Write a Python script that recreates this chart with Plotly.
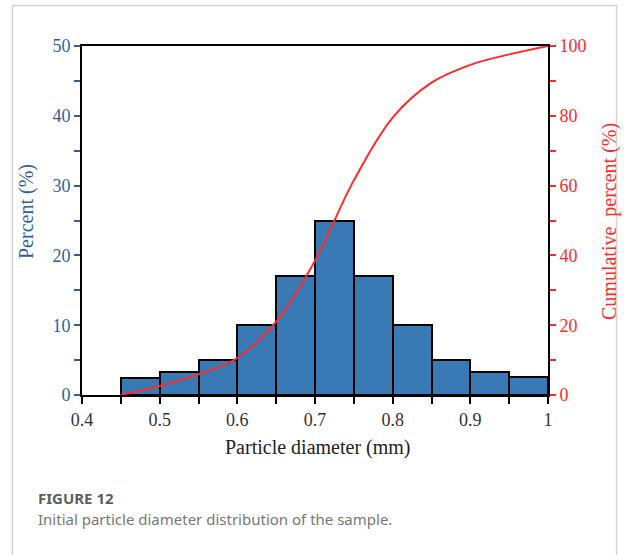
import plotly.graph_objects as go

# Particle size bins (mm) and their percentages
bin_left = [0.45, 0.50, 0.55, 0.60, 0.65, 0.70, 0.75, 0.80, 0.85, 0.90, 0.95]
bin_width = 0.05
percent = [2.5, 3.3, 5.0, 10.0, 17.0, 25.0, 17.0, 10.0, 5.0, 3.3, 2.6]

# Cumulative distribution at the bin edges
cum_x = [0.45, 0.50, 0.55, 0.60, 0.65, 0.70, 0.75, 0.80, 0.85, 0.90, 0.95, 1.00]
cum_percent = [0.0, 2.6, 5.9, 10.6, 21.0, 38.5, 61.5, 79.5, 89.5, 94.6, 97.6, 100.0]

x_tickvals = [0.4, 0.5, 0.6, 0.7, 0.8, 0.9, 1.0]
x_ticktext = ["0.4", "0.5", "0.6", "0.7", "0.8", "0.9", "1"]

BLUE = "#2f5f9f"
RED = "#ff2a2a"
BAR = "#3a7ab4"
SERIF = "Liberation Serif, Times New Roman, serif"
SANS = "Noto Sans, Open Sans, sans-serif"

# Plot area in pixels (used for placing the surrounding frame and captions)
W, H = 625, 555
L, R, T, B = 82, 548, 46, 395


def px_x(p):
    return (p - L) / (R - L)


def px_y(p):
    return (B - p) / (B - T)


centers = [b + bin_width / 2 for b in bin_left]

fig = go.Figure()
fig.add_trace(go.Bar(
    x=centers, y=percent, width=[bin_width] * len(centers),
    marker=dict(color=BAR, line=dict(color="black", width=2)),
    yaxis="y", showlegend=False,
))
fig.add_trace(go.Scatter(
    x=cum_x, y=cum_percent, mode="lines",
    line=dict(color=RED, width=2, shape="spline", smoothing=1.0),
    yaxis="y2", showlegend=False,
))

fig.update_layout(
    width=W, height=H,
    margin=dict(l=L, r=W - R, t=T, b=H - B),
    paper_bgcolor="white", plot_bgcolor="white",
    bargap=0,
    xaxis=dict(
        range=[0.4, 1.0], tickvals=x_tickvals, ticktext=x_ticktext,
        ticks="outside", ticklen=7, tickwidth=1.5, tickcolor="black",
        minor=dict(dtick=0.05, tick0=0.4, ticks="outside", ticklen=7, tickwidth=1.5, tickcolor="black"),
        showline=True, linecolor="black", linewidth=2, mirror=True,
        showgrid=False, zeroline=False,
        tickfont=dict(family=SERIF, size=18, color="#333333"),
    ),
    yaxis=dict(
        range=[0, 50], tickvals=[0, 10, 20, 30, 40, 50],
        ticks="outside", ticklen=6, tickwidth=1.5, tickcolor=BLUE,
        minor=dict(dtick=5, ticks="outside", ticklen=6, tickwidth=1.5, tickcolor=BLUE),
        showline=True, linecolor="black", linewidth=2, mirror=True,
        showgrid=False, zeroline=False,
        tickfont=dict(family=SERIF, size=18, color=BLUE),
    ),
    yaxis2=dict(
        range=[0, 100], tickvals=[0, 20, 40, 60, 80, 100],
        overlaying="y", side="right",
        ticks="outside", ticklen=6, tickwidth=1.5, tickcolor=RED,
        minor=dict(dtick=10, ticks="outside", ticklen=6, tickwidth=1.5, tickcolor=RED),
        showline=True, linecolor="black", linewidth=2,
        showgrid=False, zeroline=False,
        tickfont=dict(family=SERIF, size=18, color=RED),
    ),
    shapes=[dict(
        type="rect", xref="paper", yref="paper",
        x0=px_x(12.5), x1=px_x(616.5), y0=px_y(600), y1=px_y(5.5),
        line=dict(color="#d4d4d4", width=1.5), fillcolor="rgba(0,0,0,0)", layer="below",
    )],
    annotations=[
        dict(text="Percent (%)", xref="paper", yref="paper", x=px_x(26), y=px_y(212),
             textangle=-90, showarrow=False, xanchor="center", yanchor="middle",
             font=dict(family=SERIF, size=20, color=BLUE)),
        dict(text="Cumulative  percent (%)", xref="paper", yref="paper", x=px_x(609), y=px_y(222),
             textangle=-90, showarrow=False, xanchor="center", yanchor="middle",
             font=dict(family=SERIF, size=20, color=RED)),
        dict(text="Particle diameter (mm)", xref="paper", yref="paper", x=px_x(317), y=px_y(447),
             showarrow=False, xanchor="center", yanchor="middle",
             font=dict(family=SERIF, size=20, color="#222222")),
        dict(text="<b>FIGURE 12</b>", xref="paper", yref="paper", x=px_x(36), y=px_y(497.5),
             showarrow=False, xanchor="left", yanchor="middle",
             font=dict(family=SANS, size=15, color="#5e5e5e")),
        dict(text="Initial particle diameter distribution of the sample.", xref="paper", yref="paper",
             x=px_x(36), y=px_y(519), showarrow=False, xanchor="left", yanchor="middle",
             font=dict(family=SANS, size=15, color="#777777")),
    ],
)

fig.write_html("out.html")
